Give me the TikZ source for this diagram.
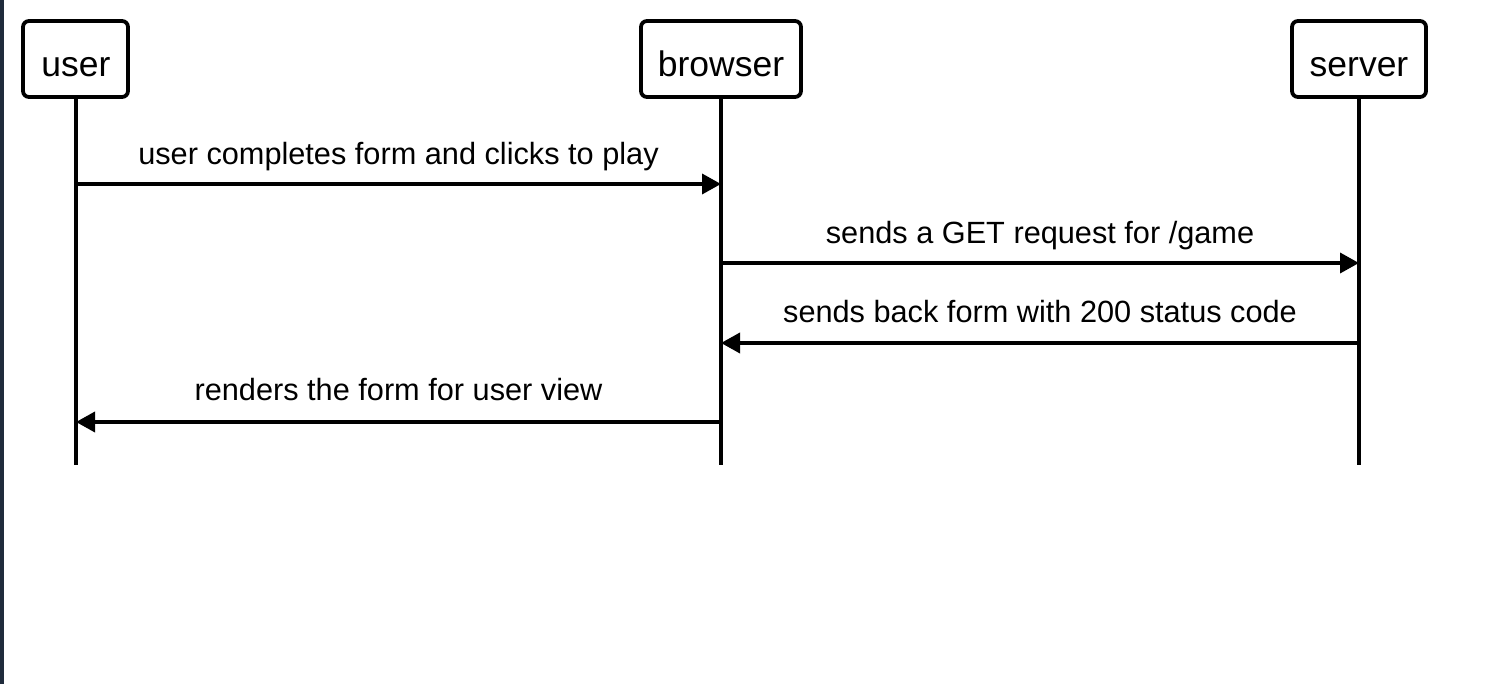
\documentclass[tikz,border=0pt]{standalone}
\usepackage{fontspec}
\setmainfont{Liberation Sans}
\usetikzlibrary{arrows.meta}
\definecolor{edgedark}{HTML}{1F2B3C}
\begin{document}
\begin{tikzpicture}[x=1pt,y=-1pt,
  actor/.style={draw=black,line width=3.8pt,rounded corners=6pt,fill=white,inner sep=0pt},
  actlbl/.style={anchor=base,inner sep=0pt,font=\fontsize{35.5}{40}\selectfont},
  life/.style={line width=3.6pt,draw=black},
  msg/.style={line width=3.6pt,draw=black,-{Triangle[length=19pt,width=20pt]}},
  lbl/.style={anchor=base,inner sep=0pt,font=\fontsize{30.7}{34}\selectfont}]
\useasboundingbox (0,0) rectangle (1494,684);
\fill[white] (0,0) rectangle (1494,684);
\fill[edgedark] (0,0) rectangle (4,684);
% actors
\node[actor,minimum width=105pt,minimum height=76pt] (user) at (75.5,59) {};
\node[actor,minimum width=160pt,minimum height=76pt] (browser) at (721,59) {};
\node[actor,minimum width=134pt,minimum height=76pt] (server) at (1359,59) {};
\node[actlbl] (userlbl) at (76,76.5) {user};
\node[actlbl] (browserlbl) at (721,76.5) {browser};
\node[actlbl] (serverlbl) at (1359,76.5) {server};
% lifeline ends
\coordinate (uend) at (76,465);
\coordinate (bend) at (721,465);
\coordinate (send) at (1359,465);
\draw[life] (user.south -| uend) -- (uend);
\draw[life] (browser.south -| bend) -- (bend);
\draw[life] (server.south -| send) -- (send);
% message points
\coordinate (u1) at (76,184);  \coordinate (b1) at (721,184);
\coordinate (b2) at (721,263); \coordinate (s2) at (1359,263);
\coordinate (s3) at (1359,343);\coordinate (b3) at (721,343);
\coordinate (b4) at (721,422); \coordinate (u4) at (76,422);
\draw[msg] (u1) -- (b1);
\draw[msg] (b2) -- (s2);
\draw[msg] (s3) -- (b3);
\draw[msg] (b4) -- (u4);
\node[lbl] (m1) at (398.5,164.5) {user completes form and clicks to play};
\node[lbl] (m2) at (1040,243.5) {sends a GET request for /game};
\node[lbl] (m3) at (1040,322.5) {sends back form with 200 status code};
\node[lbl] (m4) at (398.5,400.5) {renders the form for user view};
\end{tikzpicture}
\end{document}
